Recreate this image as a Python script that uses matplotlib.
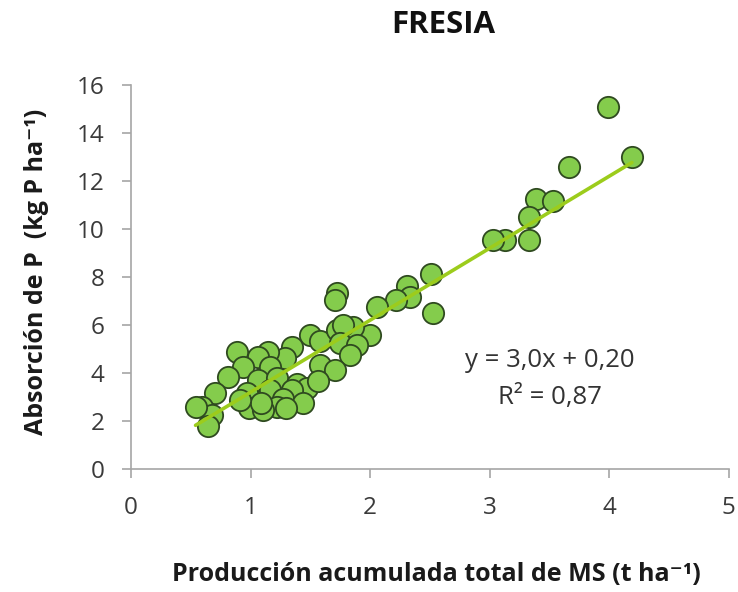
import matplotlib
matplotlib.use("Agg")
import matplotlib.pyplot as plt
import numpy as np

plt.rcParams['font.family'] = ['Open Sans', 'DejaVu Sans']

# Accumulated dry matter production (t/ha) and P uptake (kg P/ha)
produccion_ms = [3.99, 4.19, 3.66, 3.39, 3.53, 3.33, 3.33, 3.13, 3.03, 2.51,
                 2.53, 2.31, 2.33, 2.22, 2.06, 2.00, 1.72, 1.71, 1.50, 1.58,
                 1.72, 1.86, 1.77, 1.75, 1.89, 1.83, 1.58, 1.71, 1.35, 1.29,
                 1.15, 1.06, 0.89, 0.94, 1.16, 0.81, 1.06, 1.22, 1.39, 1.47,
                 1.56, 1.35, 0.97, 0.70, 1.16, 1.27, 1.44, 1.22, 0.99, 1.10,
                 1.30, 0.59, 0.68, 0.64, 0.54, 1.09, 0.91]
absorcion_p = [15.08, 13.00, 12.58, 11.25, 11.17, 10.50, 9.54, 9.54, 9.54, 8.13,
               6.50, 7.63, 7.17, 7.04, 6.75, 5.58, 7.33, 7.04, 5.58, 5.33,
               5.79, 5.92, 6.00, 5.25, 5.17, 4.75, 4.33, 4.12, 5.08, 4.63,
               4.88, 4.67, 4.88, 4.25, 4.25, 3.83, 3.71, 3.79, 3.54, 3.38,
               3.67, 3.29, 3.17, 3.17, 3.29, 2.92, 2.75, 2.58, 2.54, 2.46,
               2.54, 2.58, 2.25, 1.79, 2.58, 2.75, 2.88]

# Linear trend reported in the annotation
pendiente = 3.0
intercepto = 0.20
r2 = 0.87

x_ticks = [0, 1, 2, 3, 4, 5]
y_ticks = [0, 2, 4, 6, 8, 10, 12, 14, 16]

fig = plt.figure(figsize=(7.38, 5.92), dpi=100)
ax = fig.add_axes([0.1775, 0.2078, 0.810, 0.6486])

ax.scatter(produccion_ms, absorcion_p, s=235, facecolor='#84cc4c',
           edgecolor='#2f4a20', linewidth=1.3, zorder=2)

xs = np.array([min(produccion_ms), max(produccion_ms)])
ax.plot(xs, pendiente * xs + intercepto, color='#9ccc1c', linewidth=2.6,
        zorder=3, solid_capstyle='round')

ax.set_xlim(0, 5)
ax.set_ylim(0, 16)
ax.set_xticks(x_ticks)
ax.set_yticks(y_ticks)

for side in ('top', 'right'):
    ax.spines[side].set_visible(False)
for side in ('left', 'bottom'):
    ax.spines[side].set_color('#a6a6a6')
    ax.spines[side].set_linewidth(1.2)
ax.tick_params(axis='both', colors='#a6a6a6', length=6.5, width=1.2,
               labelcolor='#3a3a3a', labelsize=17.5, direction='out')
ax.tick_params(axis='x', pad=13)
ax.tick_params(axis='y', pad=12.5)

fig.text(0.5915, 0.029, 'Producción acumulada total de MS (t ha⁻¹)',
         fontsize=18, fontweight='bold', color='#1a1a1a',
         ha='center', va='center')
fig.text(0.050, 0.5405, 'Absorción de P  (kg P ha⁻¹)', fontsize=18,
         fontweight='bold', color='#1a1a1a', rotation=90,
         ha='center', va='center')

fig.text(0.600, 0.958, 'FRESIA', fontsize=22.5, fontweight='bold',
         ha='center', va='center', color='#111111')

eq = f'y = {pendiente:.1f}x + {intercepto:.2f}'.replace('.', ',')
ax.text(3.50, 4.50, eq, fontsize=18.5, ha='center', va='center', color='#333333')
ax.text(3.50, 2.98, f'R² = {r2:.2f}'.replace('.', ','), fontsize=18.5,
        ha='center', va='center', color='#333333')

fig.savefig('out.png', dpi=100, facecolor='white')
